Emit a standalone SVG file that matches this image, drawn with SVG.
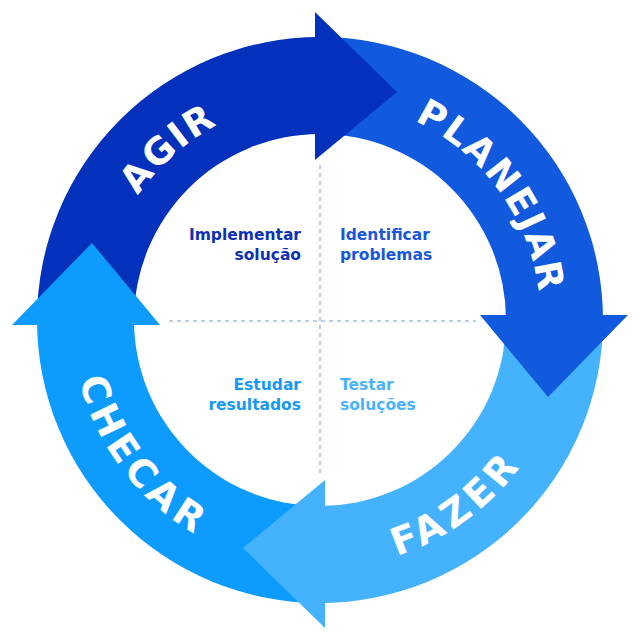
<svg xmlns="http://www.w3.org/2000/svg" width="640" height="640" viewBox="0 0 640 640">
  <defs>
    <style>
      .lbl { font-family: "DejaVu Sans", "Liberation Sans", sans-serif; font-weight: 700; font-size: 37px; fill: #ffffff; }
      .top { letter-spacing: 2px; }
      .bot { font-size: 38px; letter-spacing: 5px; }
      .note { font-family: "DejaVu Sans", "Liberation Sans", sans-serif; font-weight: 700; font-size: 15.5px; }
      .dash { stroke: #a8b8ea; stroke-width: 1.5; stroke-dasharray: 4 4; fill: none; }
    </style>
    <polygon id="head" points="315,12 397,92 315,160"/>
    <path id="pAgir" d="M99.5,320 A220.5,220.5 0 0 1 320,99.5"/>
    <path id="pPlan" d="M320,99.5 A220.5,220.5 0 0 1 540.5,320"/>
    <path id="pFazer" d="M320,568 A248,248 0 0 0 568,320"/>
    <path id="pChecar" d="M72,320 A248,248 0 0 0 320,568"/>
  </defs>

  <g id="connectors">
    <line class="dash" x1="320" y1="165" x2="320" y2="476"/>
    <line class="dash" x1="169" y1="321" x2="476" y2="321"/>
  </g>

  <g id="bodies">
    <path id="body-agir" fill="#0431bb" d="M37,320 A283,283 0 0 1 320,37 L320,134 A186,186 0 0 0 134,320 Z"/>
    <path id="body-planejar" fill="#1159dd" d="M320,37 A283,283 0 0 1 603,320 L506,320 A186,186 0 0 0 320,134 Z"/>
    <path id="body-fazer" fill="#45b2fd" d="M603,320 A283,283 0 0 1 320,603 L320,506 A186,186 0 0 0 506,320 Z"/>
    <path id="body-checar" fill="#0e9bfe" d="M320,603 A283,283 0 0 1 37,320 L134,320 A186,186 0 0 0 320,506 Z"/>
  </g>

  <g id="agir">
    <use href="#head" fill="#0431bb"/>
    <text class="lbl top"><textPath href="#pAgir" startOffset="53.9%" text-anchor="middle">AGIR</textPath></text>
  </g>
  <g id="planejar">
    <use href="#head" fill="#1159dd" transform="rotate(90 320 320)"/>
    <text class="lbl top"><textPath href="#pPlan" startOffset="60.3%" text-anchor="middle">PLANEJAR</textPath></text>
  </g>
  <g id="fazer">
    <use href="#head" fill="#45b2fd" transform="rotate(180 320 320)"/>
    <text class="lbl bot"><textPath href="#pFazer" startOffset="40.4%" text-anchor="middle">FAZER</textPath></text>
  </g>
  <g id="checar">
    <use href="#head" fill="#0e9bfe" transform="rotate(270 320 320)"/>
    <text class="lbl bot"><textPath href="#pChecar" startOffset="41.5%" text-anchor="middle">CHECAR</textPath></text>
  </g>

  <g id="note-agir">
    <text class="note" fill="#0d31b3" text-anchor="end" x="301" y="240">Implementar</text>
    <text class="note" fill="#0d31b3" text-anchor="end" x="301" y="260">solução</text>
  </g>
  <g id="note-planejar">
    <text class="note" fill="#1a57d9" x="340" y="240">Identificar</text>
    <text class="note" fill="#1a57d9" x="340" y="260">problemas</text>
  </g>
  <g id="note-checar">
    <text class="note" fill="#1699f7" text-anchor="end" x="301" y="390">Estudar</text>
    <text class="note" fill="#1699f7" text-anchor="end" x="301" y="410">resultados</text>
  </g>
  <g id="note-fazer">
    <text class="note" fill="#4ab3fb" x="340" y="390">Testar</text>
    <text class="note" fill="#4ab3fb" x="340" y="410">soluções</text>
  </g>
</svg>
